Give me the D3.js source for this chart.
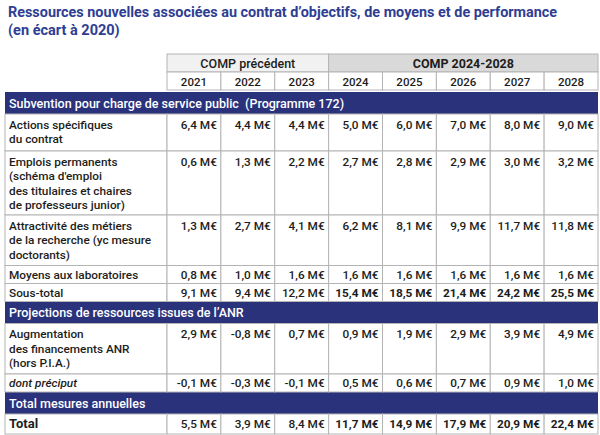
<!DOCTYPE html>
<html>
<head>
<meta charset="utf-8">
<script src="https://cdn.jsdelivr.net/npm/d3@7"></script>
<style>
  body { margin: 0; background: #fff; }
  svg { display: block; font-family: Roboto, "Noto Sans", sans-serif; }
</style>
</head>
<body>
<svg id="chart" width="600" height="435"></svg>
<script>
// data
const titleLines = [
  "Ressources nouvelles associées au contrat d’objectifs, de moyens et de performance",
  "(en écart à 2020)"
];
const years = [2021, 2022, 2023, 2024, 2025, 2026, 2027, 2028];
const groupLabels = ["COMP précédent", "COMP 2024-2028"];
const groupFirstYear = [2021, 2024];
const groupLastYear = [2023, 2028];
const sectionLabels = [
  "Subvention pour charge de service public  (Programme 172)",
  "Projections de ressources issues de l’ANR",
  "Total mesures annuelles"
];

const actionsSpecifiques = [6.4, 4.4, 4.4, 5.0, 6.0, 7.0, 8.0, 9.0];
const emploisPermanents = [0.6, 1.3, 2.2, 2.7, 2.8, 2.9, 3.0, 3.2];
const attractivite = [1.3, 2.7, 4.1, 6.2, 8.1, 9.9, 11.7, 11.8];
const moyensLabos = [0.8, 1.0, 1.6, 1.6, 1.6, 1.6, 1.6, 1.6];
const sousTotal = [9.1, 9.4, 12.2, 15.4, 18.5, 21.4, 24.2, 25.5];
const augmentationANR = [2.9, -0.8, 0.7, 0.9, 1.9, 2.9, 3.9, 4.9];
const dontPreciput = [-0.1, -0.3, -0.1, 0.5, 0.6, 0.7, 0.9, 1.0];
const totalAnnuel = [5.5, 3.9, 8.4, 11.7, 14.9, 17.9, 20.9, 22.4];

// rows of the table, in order
const rows = [
  { section: sectionLabels[0] },
  { lines: ["Actions spécifiques", "du contrat"], values: actionsSpecifiques },
  { lines: ["Emplois permanents", "(schéma d'emploi", "des titulaires et chaires", "de professeurs junior)"], values: emploisPermanents },
  { lines: ["Attractivité des métiers", "de la recherche (yc mesure", "doctorants)"], values: attractivite },
  { lines: ["Moyens aux laboratoires"], values: moyensLabos },
  { lines: ["Sous-total"], values: sousTotal, boldFrom: 2024 },
  { section: sectionLabels[1] },
  { lines: ["Augmentation", "des financements ANR", "(hors P.I.A.)"], values: augmentationANR },
  { lines: ["dont préciput"], values: dontPreciput, italic: true },
  { section: sectionLabels[2] },
  { lines: ["Total"], values: totalAnnuel, boldFrom: 2024, total: true }
];

const navy = "#29327b";
const grid = "#b4b4b4";
const ink = "#1d1d1b";

const svg = d3.select("#chart");

const left = 5, right = 598;
const x = d3.scaleBand().domain(years).range([167, right]);

const locale = d3.formatLocale({ decimal: ",", thousands: " ", grouping: [3], currency: ["", " M€"], minus: "-" });
const fmt = v => locale.format(".1f")(v) + " M€";

// title
svg.append("g")
  .selectAll("text")
  .data(titleLines)
  .join("text")
  .attr("x", 8)
  .attr("y", (d, i) => 17 + i * 18)
  .attr("fill", "#2e3e93")
  .attr("font-size", 14.5)
  .attr("font-weight", 700)
  .attr("textLength", (d, i) => i === 0 ? 549 : null)
  .attr("lengthAdjust", "spacingAndGlyphs")
  .text(d => d);

// header: group row + years row
const headTop = 54, headH = 18;
const groups = groupLabels.map((g, i) => ({
  label: g,
  x0: x(groupFirstYear[i]),
  x1: x(groupLastYear[i]) + x.bandwidth(),
  fill: i === 0 ? "#f1f1f1" : "#d9d9d9",
  weight: i === 0 ? 500 : 700
}));

const head = svg.append("g");
head.selectAll("rect.group")
  .data(groups)
  .join("rect")
  .attr("class", "group")
  .attr("x", d => d.x0)
  .attr("y", headTop)
  .attr("width", d => d.x1 - d.x0)
  .attr("height", headH)
  .attr("fill", d => d.fill)
  .attr("stroke", grid);
head.selectAll("text.group")
  .data(groups)
  .join("text")
  .attr("class", "group")
  .attr("x", d => (d.x0 + d.x1) / 2)
  .attr("y", headTop + headH / 2 + 4.5)
  .attr("text-anchor", "middle")
  .attr("font-size", 12.5)
  .attr("font-weight", d => d.weight)
  .attr("fill", ink)
  .text(d => d.label);

head.selectAll("rect.year")
  .data(years)
  .join("rect")
  .attr("class", "year")
  .attr("x", d => x(d))
  .attr("y", headTop + headH)
  .attr("width", x.bandwidth())
  .attr("height", headH)
  .attr("fill", "#fff")
  .attr("stroke", grid);
head.selectAll("text.year")
  .data(years)
  .join("text")
  .attr("class", "year")
  .attr("x", d => x(d) + x.bandwidth() / 2)
  .attr("y", headTop + headH * 1.5 + 4.5)
  .attr("text-anchor", "middle")
  .attr("font-size", 11.5)
  .attr("font-weight", 500)
  .attr("fill", ink)
  .text(d => d);

// body row layout
const lineStep = 14.5;
let yCursor = headTop + headH * 2 + 2;
rows.forEach(r => {
  if (r.section) r.h = 22;
  else if (r.lines.length === 1) r.h = r.total ? 20 : 18;
  else r.h = r.lines.length * 13.5 + 10;
  r.y = yCursor;
  yCursor += r.h;
});

const body = svg.append("g");

// section bands
const sectionRows = rows.filter(r => r.section);
body.selectAll("rect.band")
  .data(sectionRows)
  .join("rect")
  .attr("class", "band")
  .attr("x", left)
  .attr("y", d => d.y)
  .attr("width", right - left)
  .attr("height", d => d.h)
  .attr("fill", navy);
body.selectAll("text.band")
  .data(sectionRows)
  .join("text")
  .attr("class", "band")
  .attr("x", 9)
  .attr("y", d => d.y + d.h / 2 + 4.5)
  .attr("font-size", 12.5)
  .attr("font-weight", 500)
  .attr("fill", "#fff")
  .attr("xml:space", "preserve")
  .style("white-space", "pre")
  .text(d => d.section);

// data rows
const dataRows = rows.filter(r => !r.section);
const rowG = body.selectAll("g.row")
  .data(dataRows)
  .join("g")
  .attr("class", "row");

rowG.append("rect")
  .attr("x", left)
  .attr("y", d => d.y)
  .attr("width", 167 - left)
  .attr("height", d => d.h)
  .attr("fill", "#fff")
  .attr("stroke", grid);

rowG.selectAll("rect.cell")
  .data(d => years.map((yr, i) => ({ yr, v: d.values[i], row: d })))
  .join("rect")
  .attr("class", "cell")
  .attr("x", d => x(d.yr))
  .attr("y", d => d.row.y)
  .attr("width", x.bandwidth())
  .attr("height", d => d.row.h)
  .attr("fill", "#fff")
  .attr("stroke", grid);

const firstLineY = r => r.lines.length === 1 ? r.y + r.h / 2 + 4.3 : r.y + 14.5;

rowG.selectAll("text.label")
  .data(d => d.lines.map((t, i) => ({ t, i, row: d })))
  .join("text")
  .attr("class", "label")
  .attr("x", 9)
  .attr("y", d => firstLineY(d.row) + d.i * lineStep)
  .attr("font-size", d => d.row.total ? 13 : 11.8)
  .attr("font-weight", d => d.row.total ? 700 : 500)
  .attr("font-style", d => d.row.italic ? "italic" : null)
  .attr("fill", ink)
  .text(d => d.t);

rowG.selectAll("text.value")
  .data(d => years.map((yr, i) => ({ yr, v: d.values[i], row: d })))
  .join("text")
  .attr("class", "value")
  .attr("x", d => x(d.yr) + x.bandwidth() - 4)
  .attr("y", d => firstLineY(d.row))
  .attr("text-anchor", "end")
  .attr("font-size", 11.8)
  .attr("font-weight", d => d.row.boldFrom && d.yr >= d.row.boldFrom ? 700 : 500)
  .attr("fill", ink)
  .text(d => fmt(d.v));
</script>
</body>
</html>
